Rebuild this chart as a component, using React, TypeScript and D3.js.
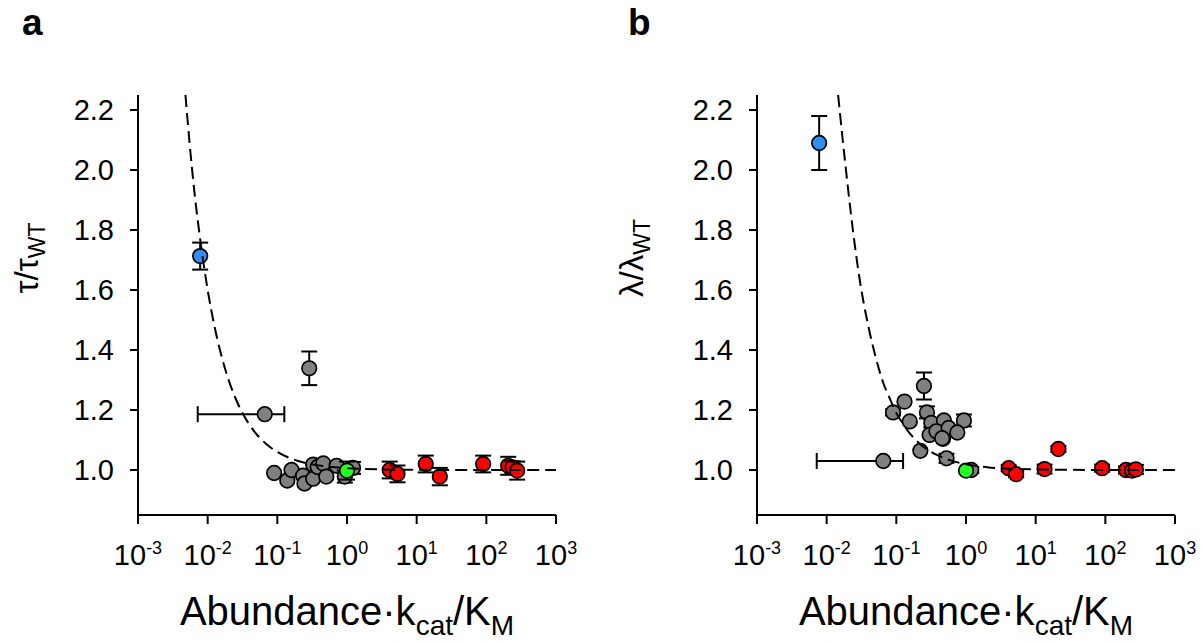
import React from "react";
import * as d3 from "d3";

type Pt = [number, number, number]; // x, y, yErr

// ---------- Data: panel a (tau / tau_WT) ----------
const aBlue: Pt[] = [[0.0078, 1.713, 0.045]];
const aGrayXErr: { x: number; y: number; lo: number; hi: number }[] = [
  { x: 0.066, y: 1.186, lo: 0.0072, hi: 0.126 },
];
const aGray: Pt[] = [
  [0.287, 1.339, 0.056],
  [0.09, 0.99, 0],
  [0.139, 0.965, 0],
  [0.16, 1.0, 0],
  [0.234, 0.981, 0],
  [0.245, 0.955, 0],
  [0.327, 1.018, 0],
  [0.327, 0.971, 0],
  [0.38, 1.01, 0],
  [0.457, 1.022, 0],
  [0.505, 0.978, 0],
  [0.71, 1.014, 0],
  [0.93, 0.978, 0.02],
  [1.22, 1.007, 0.02],
];
const aGreen: Pt[] = [[1.0, 0.998, 0.03]];
const aRed: Pt[] = [
  [4.1, 1.0, 0.028],
  [5.3, 0.987, 0.028],
  [13.5, 1.02, 0.028],
  [21.5, 0.978, 0.029],
  [90, 1.02, 0.028],
  [206, 1.014, 0.03],
  [238, 1.009, 0.02],
  [277, 0.998, 0.03],
];
// dashed fit curve
const aFit: [number, number][] = [
  [0.0048, 2.25], [0.0055, 2.09], [0.0065, 1.92], [0.0078, 1.77], [0.01, 1.6],
  [0.0125, 1.48], [0.015, 1.4], [0.02, 1.3], [0.025, 1.24], [0.03, 1.2],
  [0.04, 1.15], [0.05, 1.12], [0.07, 1.086], [0.1, 1.06], [0.15, 1.04],
  [0.2, 1.03], [0.3, 1.02], [0.5, 1.012], [1, 1.006], [3, 1.002],
  [10, 1.0006], [100, 1.0], [1000, 1.0],
];

// ---------- Data: panel b (lambda / lambda_WT) ----------
const bBlue: Pt[] = [[0.0078, 2.09, 0.09]];
const bGrayXErr: { x: number; y: number; lo: number; hi: number }[] = [
  { x: 0.065, y: 1.03, lo: 0.0072, hi: 0.125 },
];
const bGray: Pt[] = [
  [0.249, 1.28, 0.045],
  [0.0897, 1.192, 0.01],
  [0.131, 1.228, 0],
  [0.156, 1.162, 0],
  [0.275, 1.192, 0.02],
  [0.318, 1.157, 0.015],
  [0.482, 1.165, 0],
  [0.933, 1.165, 0.02],
  [0.3, 1.117, 0],
  [0.376, 1.129, 0],
  [0.468, 1.104, 0],
  [0.564, 1.14, 0],
  [0.75, 1.125, 0],
  [0.455, 1.106, 0],
  [0.221, 1.064, 0],
  [0.525, 1.039, 0.015],
  [1.19, 1.0, 0.01],
];
const bGreen: Pt[] = [[1.0, 0.998, 0]];
const bRed: Pt[] = [
  [4.1, 1.006, 0.01],
  [5.25, 0.986, 0.01],
  [13.4, 1.003, 0.015],
  [21.2, 1.07, 0.01],
  [90, 1.006, 0.012],
  [198, 1.0, 0.012],
  [242, 0.998, 0.01],
  [275, 1.002, 0.015],
];
const bFit: [number, number][] = [
  [0.0146, 2.25], [0.017, 2.1], [0.02, 1.95], [0.025, 1.76], [0.03, 1.63],
  [0.04, 1.475], [0.05, 1.38], [0.065, 1.29], [0.08, 1.24], [0.1, 1.19],
  [0.12, 1.16], [0.15, 1.127], [0.2, 1.095], [0.3, 1.063], [0.4, 1.048],
  [0.6, 1.032], [1, 1.019], [2, 1.0095], [3, 1.006], [10, 1.002],
  [100, 1.0], [1000, 1.0],
];

// ---------- Axes ----------
const xExponents = [-3, -2, -1, 0, 1, 2, 3];
const yTicks = [1.0, 1.2, 1.4, 1.6, 1.8, 2.0, 2.2];

const COLORS = { blue: "#318ef0", gray: "#808080", green: "#22ff22", red: "#ff0000" };
const FONT = "Liberation Sans, Arial, sans-serif";

const W = 418;
const H = 420;
const x = d3.scaleLog().domain([1e-3, 1e3]).range([0, W]);
const y = d3.scaleLinear().domain([0.85, 2.25]).range([H, 0]);

const R = 7.3;
const CAP = 8;

function ErrY({ p }: { p: Pt }) {
  if (!p[2]) return null;
  const cx = x(p[0]);
  const y1 = y(p[1] - p[2]);
  const y2 = y(p[1] + p[2]);
  return (
    <g stroke="#000" strokeWidth={2}>
      <line x1={cx} x2={cx} y1={y1} y2={y2} />
      <line x1={cx - CAP} x2={cx + CAP} y1={y1} y2={y1} />
      <line x1={cx - CAP} x2={cx + CAP} y1={y2} y2={y2} />
    </g>
  );
}

function Panel({
  ox, label, labelX, sym, blue, grayX, gray, green, red, fit, titleX,
}: {
  ox: number; label: string; labelX: number; sym: string;
  blue: Pt[]; grayX: { x: number; y: number; lo: number; hi: number }[];
  gray: Pt[]; green: Pt[]; red: Pt[]; fit: [number, number][]; titleX: number;
}) {
  const line = d3
    .line<[number, number]>()
    .x((d) => x(d[0]))
    .y((d) => y(d[1]))
    .curve(d3.curveMonotoneX);
  const groups: [Pt[], string][] = [
    [gray, COLORS.gray],
    [blue, COLORS.blue],
    [red, COLORS.red],
    [green, COLORS.green],
  ];
  return (
    <g>
      <text x={labelX} y={35} fontSize={37} fontWeight="bold" fontFamily={FONT}>
        {label}
      </text>
      <text
        transform={`translate(${titleX},258) rotate(-90)`}
        textAnchor="middle"
        fontSize={33}
        fontFamily={FONT}
      >
        {sym}/{sym}
        <tspan fontSize={23} dy={7}>WT</tspan>
      </text>
      <g transform={`translate(${ox},95)`}>
        {/* y axis */}
        <line x1={0} x2={0} y1={0} y2={H} stroke="#000" strokeWidth={2} />
        {yTicks.map((t) => (
          <g key={t}>
            <line x1={-8} x2={0} y1={y(t)} y2={y(t)} stroke="#000" strokeWidth={2} />
            <text x={-24} y={y(t)} dy="0.35em" textAnchor="end" fontSize={29} fontFamily={FONT}>
              {t.toFixed(1)}
            </text>
          </g>
        ))}
        {/* x axis */}
        <line x1={0} x2={W} y1={H} y2={H} stroke="#000" strokeWidth={2} />
        {xExponents.map((e) => (
          <g key={e}>
            <line x1={x(10 ** e)} x2={x(10 ** e)} y1={H} y2={H + 9} stroke="#000" strokeWidth={2} />
            <text x={x(10 ** e)} y={H + 50} textAnchor="middle" fontSize={29} fontFamily={FONT}>
              10<tspan fontSize={18} dy={-11}>{e}</tspan>
            </text>
          </g>
        ))}
        <text x={W / 2} y={530} textAnchor="middle" fontSize={40} fontFamily={FONT}>
          Abundance·k<tspan fontSize={28} dy={10}>cat</tspan>
          <tspan dy={-10}>/K</tspan>
          <tspan fontSize={28} dy={10}>M</tspan>
        </text>

        {/* horizontal error bars */}
        {grayX.map((p, i) => {
          const cy = y(p.y);
          const x1 = x(p.lo);
          const x2 = x(p.hi);
          return (
            <g key={"hx" + i} stroke="#000" strokeWidth={2}>
              <line x1={x1} x2={x2} y1={cy} y2={cy} />
              <line x1={x1} x2={x1} y1={cy - CAP} y2={cy + CAP} />
              <line x1={x2} x2={x2} y1={cy - CAP} y2={cy + CAP} />
            </g>
          );
        })}
        {groups.map(([pts, col], gi) => (
          <g key={gi}>
            {pts.map((p, i) => (
              <g key={i}>
                <ErrY p={p} />
                <circle cx={x(p[0])} cy={y(p[1])} r={R} fill={col} stroke="#000" strokeWidth={1.7} />
              </g>
            ))}
          </g>
        ))}
        {grayX.map((p, i) => (
          <circle key={"hc" + i} cx={x(p.x)} cy={y(p.y)} r={R} fill={COLORS.gray} stroke="#000" strokeWidth={1.7} />
        ))}
        {/* fit curve */}
        <path d={line(fit) || ""} fill="none" stroke="#000" strokeWidth={2} strokeDasharray="12,6" />
      </g>
    </g>
  );
}

export default function App() {
  return (
    <svg width={1202} height={641} style={{ position: "absolute", left: 0, top: 0, background: "#fff" }}>
      <rect width={1202} height={641} fill="#fff" />
      <Panel ox={138} label="a" labelX={22} sym="τ" blue={aBlue} grayX={aGrayXErr} gray={aGray}
        green={aGreen} red={aRed} fit={aFit} titleX={38} />
      <Panel ox={757} label="b" labelX={628} sym="λ" blue={bBlue} grayX={bGrayXErr} gray={bGray}
        green={bGreen} red={bRed} fit={bFit} titleX={643} />
    </svg>
  );
}
